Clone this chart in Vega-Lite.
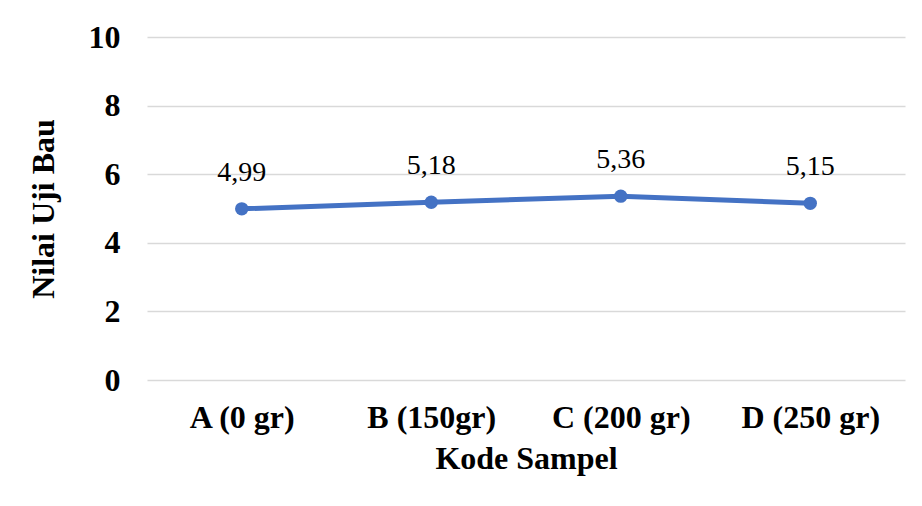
{
  "$schema": "https://vega.github.io/schema/vega-lite/v6.json",
  "width": 758,
  "height": 343,
  "autosize": {"type": "none"},
  "padding": {"left": 147, "top": 37, "right": 17, "bottom": 126},
  "background": "white",
  "config": {"view": {"stroke": null}, "font": "Liberation Serif"},
  "data": {"values": [
    {"kode": "A (0 gr)", "nilai": 4.99, "label": "4,99"},
    {"kode": "B (150gr)", "nilai": 5.18, "label": "5,18"},
    {"kode": "C (200 gr)", "nilai": 5.36, "label": "5,36"},
    {"kode": "D (250 gr)", "nilai": 5.15, "label": "5,15"}
  ]},
  "encoding": {
    "x": {"field": "kode", "type": "nominal", "sort": null,
      "scale": {"type": "point", "padding": 0.5},
      "axis": {"title": "Kode Sampel", "labelAngle": 0, "labelFont": "Liberation Serif", "labelFontSize": 32, "labelFontWeight": "bold", "labelColor": "black", "labelPadding": 22, "ticks": false, "domain": false, "grid": false, "titleFont": "Liberation Serif", "titleFontSize": 32, "titleFontWeight": "bold", "titleColor": "black", "titlePadding": 10}},
    "y": {"field": "nilai", "type": "quantitative",
      "scale": {"domain": [0, 10]},
      "axis": {"title": "Nilai Uji Bau", "values": [0, 2, 4, 6, 8, 10], "labelFont": "Liberation Serif", "labelFontSize": 32, "labelFontWeight": "bold", "labelColor": "black", "labelPadding": 27, "ticks": false, "domain": false, "gridColor": "#d9d9d9", "gridWidth": 1.5, "titleFont": "Liberation Serif", "titleFontSize": 32, "titleFontWeight": "bold", "titleColor": "black", "titlePadding": 28}}
  },
  "layer": [
    {"mark": {"type": "line", "color": "#4472C4", "strokeWidth": 5}},
    {"mark": {"type": "point", "filled": true, "opacity": 1, "color": "#4472C4", "size": 180}},
    {"mark": {"type": "text", "dy": -36, "fontSize": 28, "font": "Liberation Serif", "color": "black"},
     "encoding": {"text": {"field": "label"}}}
  ]
}
